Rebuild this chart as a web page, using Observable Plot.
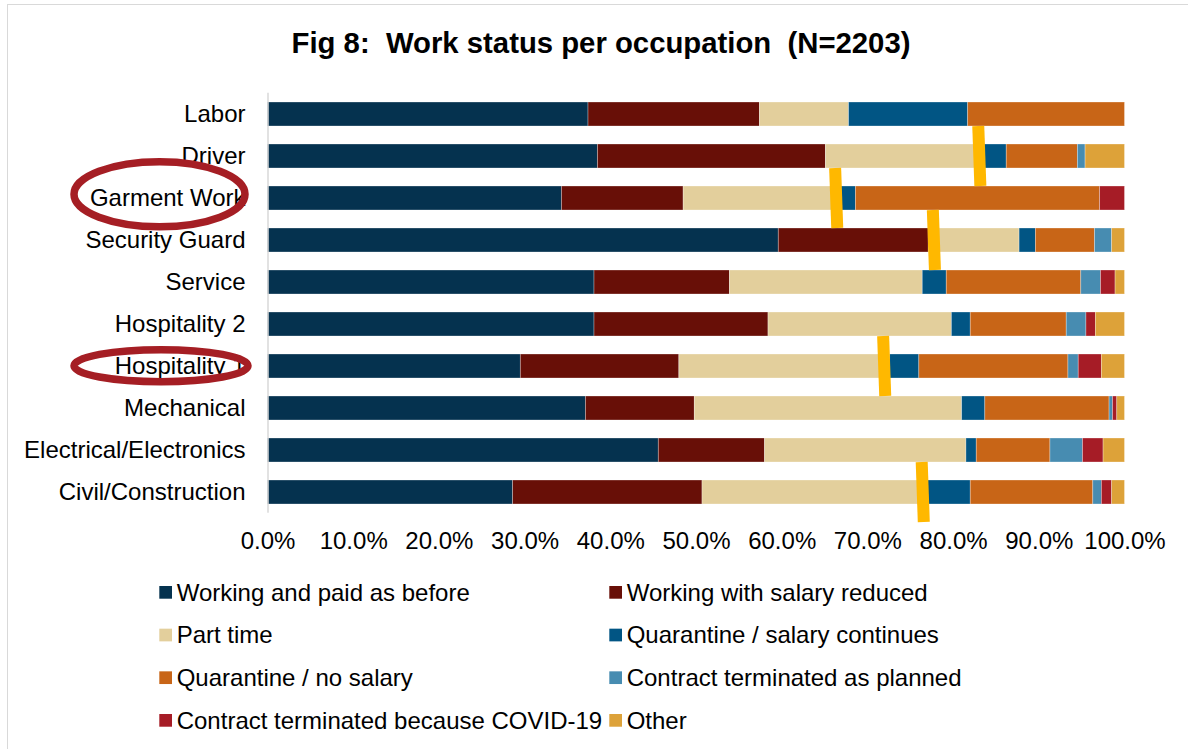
<!DOCTYPE html>
<html><head><meta charset="utf-8">
<script src="https://cdn.jsdelivr.net/npm/d3@7"></script>
<script src="https://cdn.jsdelivr.net/npm/@observablehq/plot@0.6"></script>
<style>
html,body{margin:0;padding:0;background:#fff;}
#wrap{position:relative;width:1188px;height:749px;overflow:hidden;font-family:"Liberation Sans",Arial,sans-serif;}
#frame{position:absolute;left:7px;top:4px;width:1400px;height:1000px;border-left:1.5px solid #d9d9d9;border-top:1.5px solid #d9d9d9;}
#chart{position:absolute;left:0;top:0;}
.layer{position:absolute;left:0;top:0;pointer-events:none;}
</style></head>
<body><div id="wrap"><div id="frame"></div><div id="chart"></div></div>
<script>
// ---------- data ----------
const occupations = ["Labor", "Driver", "Garment Work", "Security Guard", "Service",
  "Hospitality 2", "Hospitality 1", "Mechanical", "Electrical/Electronics", "Civil/Construction"];

const seriesNames = ["Working and paid as before", "Working with salary reduced", "Part time",
  "Quarantine / salary continues", "Quarantine / no salary", "Contract terminated as planned",
  "Contract terminated because COVID-19", "Other"];

const workingPaid      = [37.4, 38.5, 34.3, 59.6, 38.1, 38.1, 29.5, 37.1, 45.6, 28.6];
const salaryReduced    = [20.0, 26.6, 14.2, 17.5, 15.8, 20.3, 18.5, 12.7, 12.4, 22.1];
const partTime         = [10.4, 18.5, 18.4, 10.6, 22.5, 21.4, 24.6, 31.2, 23.5, 26.3];
const quarantinePaid   = [13.9,  2.6,  1.7,  1.9,  2.8,  2.2,  3.4,  2.7,  1.2,  5.0];
const quarantineUnpaid = [18.3,  8.3, 28.5,  6.9, 15.7, 11.2, 17.4, 14.5,  8.6, 14.3];
const termPlanned      = [ 0.0,  0.9,  0.0,  2.0,  2.3,  2.3,  1.2,  0.4,  3.8,  1.0];
const termCovid        = [ 0.0,  0.0,  2.9,  0.0,  1.7,  1.1,  2.7,  0.5,  2.4,  1.2];
const otherStatus      = [ 0.0,  4.6,  0.0,  1.5,  1.1,  3.4,  2.7,  0.9,  2.5,  1.5];

const xTicks = [0, 10, 20, 30, 40, 50, 60, 70, 80, 90, 100];

// hand-drawn highlight annotations
const highlightOccupations = ["Driver", "Garment Work", "Security Guard", "Hospitality 1", "Civil/Construction"];
const highlightValues      = [83.0, 66.3, 77.7, 71.9, 76.4];
const circledOccupations   = ["Garment Work", "Hospitality 1"];

// ---------- styles ----------
const colors = ["#05324f", "#680f07", "#e3cf9c", "#015584", "#c86517", "#478cb1", "#a61c26", "#dda239"];
const FONT = '"Liberation Sans", Arial, sans-serif';
const FS = 24;

const seriesValues = [workingPaid, salaryReduced, partTime, quarantinePaid, quarantineUnpaid, termPlanned, termCovid, otherStatus];
const rows = [];
occupations.forEach((occ, i) => {
  seriesNames.forEach((s, j) => {
    const v = seriesValues[j][i];
    if (v > 0) rows.push({occ, series: s, value: v});
  });
});
const highlights = highlightOccupations.map((occ, i) => ({occ, x: highlightValues[i]}));

const chart = Plot.plot({
  width: 1188,
  height: 565,
  marginLeft: 267.5,
  marginRight: 63.5,
  marginTop: 92.7,
  marginBottom: 52.3,
  style: {fontFamily: FONT, fontSize: FS + "px", color: "#000", background: "transparent", overflow: "visible"},
  x: {domain: [0, 100], label: null},
  y: {domain: occupations, paddingInner: 18 / 42, paddingOuter: 9 / 42, label: null},
  color: {domain: seriesNames, range: colors},
  marks: [
    Plot.barX(rows, {y: "occ", x: "value", fill: "series", stroke: "#ffffff", strokeOpacity: 0.4, strokeWidth: 0.75}),
    Plot.ruleX([0], {stroke: "#d9d9d9", strokeWidth: 1.5}),
    Plot.axisX({ticks: xTicks, tickFormat: d => d.toFixed(1) + "%", tickSize: 0, tickPadding: 19.2, fontSize: FS, label: null}),
    Plot.axisY({tickSize: 0, tickPadding: 22.5, fontSize: FS, label: null}),
    Plot.tickX(highlights, {x: "x", y: "occ", stroke: "#ffb800", strokeWidth: 12, insetTop: -18, insetBottom: -18})
  ]
});
document.getElementById("chart").appendChild(chart);

// slant the hand-drawn highlight strokes slightly
d3.select(chart).selectAll('g[aria-label="tick"] line').each(function () {
  const l = d3.select(this);
  const x = +l.attr("x1"), y1 = +l.attr("y1"), y2 = +l.attr("y2");
  l.attr("transform", `rotate(-2 ${x} ${(y1 + y2) / 2})`);
});

// red ellipses around circled category labels, positioned with Plot's scales
const ys = chart.scale("y"), xs = chart.scale("x");
const ellipseStyle = [
  {dx: -108, dy: -3.8, rx: 85.5, ry: 32.5},
  {dx: -106.5, dy: -0.3, rx: 87, ry: 16}
];
const eg = d3.select(chart).append("g").attr("aria-label", "circled labels");
circledOccupations.forEach((occ, i) => {
  const s = ellipseStyle[i];
  eg.append("ellipse")
    .attr("cx", xs.apply(0) + s.dx)
    .attr("cy", ys.apply(occ) + ys.bandwidth / 2 + s.dy)
    .attr("rx", s.rx).attr("ry", s.ry)
    .attr("fill", "none").attr("stroke", "#a51e24").attr("stroke-width", 7.5);
});

// ---------- title + legend ----------
const layer = d3.select("#wrap").append("svg").attr("class", "layer")
  .attr("width", 1188).attr("height", 749)
  .style("font-family", FONT);

layer.append("text")
  .attr("x", 601).attr("y", 53)
  .attr("text-anchor", "middle")
  .style("white-space", "pre")
  .style("font-weight", "bold").style("font-size", "29.3px").attr("fill", "#000")
  .text("Fig 8:  Work status per occupation  (N=2203)");

const colX = [159.3, 609.3];
seriesNames.forEach((s, i) => {
  const col = i % 2, row = Math.floor(i / 2);
  const top = 586 + row * 42.67;
  const g = layer.append("g");
  g.append("rect").attr("x", colX[col]).attr("y", top).attr("width", 12.7).attr("height", 12.7).attr("fill", colors[i]);
  g.append("text").attr("x", colX[col] + 17.4).attr("y", top + 14.7)
    .style("font-size", FS + "px").attr("fill", "#000").text(s);
});
</script>
</body></html>
